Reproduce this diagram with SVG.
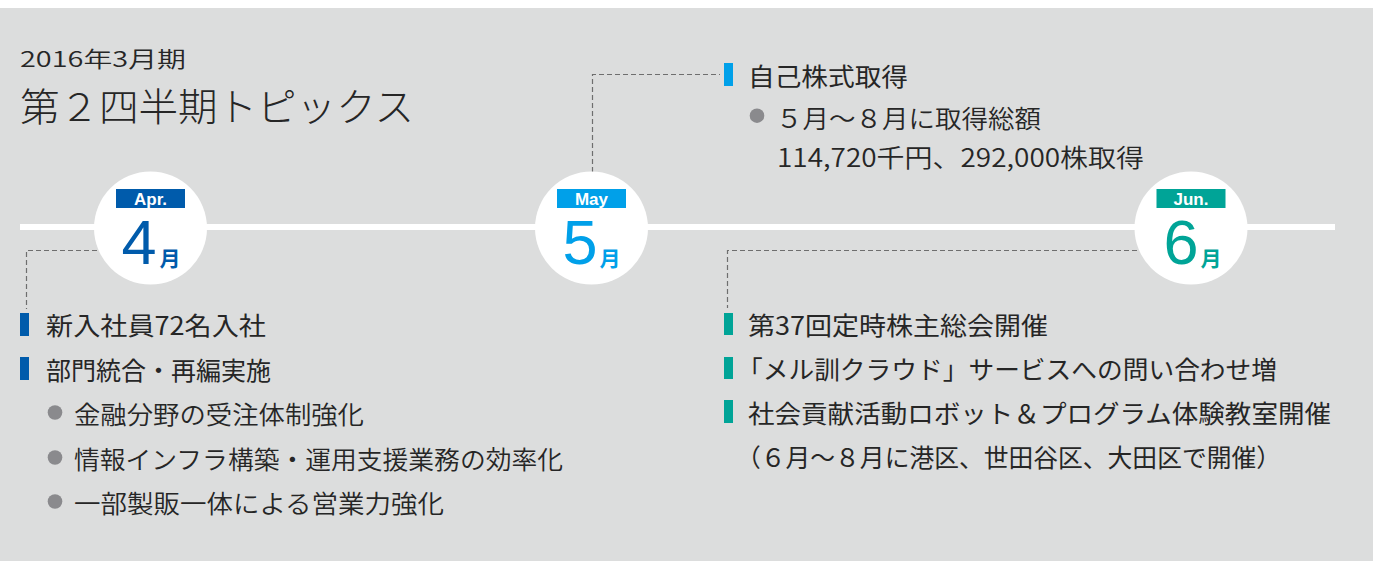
<svg xmlns="http://www.w3.org/2000/svg" width="1389" height="565" viewBox="0 0 1389 565">
<style>
.jp{font-family:"Noto Sans CJK JP","Noto Sans CJK SC",sans-serif;fill:#262626;font-size:25px;font-weight:350}
.hd{font-weight:400}
.big{font-family:"Liberation Sans",Arial,sans-serif;font-size:63px}
.mon{font-family:"Noto Sans CJK JP",sans-serif;font-size:21px;font-weight:bold}
.lab{font-family:"Liberation Sans",Arial,sans-serif;font-size:17px;font-weight:bold;fill:#fff}
.dash{fill:none;stroke:#6e6e6e;stroke-width:1.2;stroke-dasharray:5 3}
.dot{fill:#8a8a8d}
</style>
<rect x="0" y="0" width="1389" height="565" fill="#ffffff"/>
<rect x="0" y="8" width="1373" height="553" fill="#dcdddd"/>
<g id="title">
<text class="jp" x="20" y="67" textLength="166" lengthAdjust="spacingAndGlyphs" style="font-size:21.5px">2016年3月期</text>
<text class="jp" x="20" y="121" textLength="394" lengthAdjust="spacingAndGlyphs" style="font-size:39px;font-weight:300">第２四半期トピックス</text>
</g>
<g id="connectors">
<rect x="20" y="224" width="1315" height="6" fill="#ffffff"/>
<path class="dash" d="M97 250.5 H26.5 V309"/>
<path class="dash" d="M592.5 172 V74.5 H720"/>
<path class="dash" d="M1137 250.5 H727.5 V308"/>
</g>
<g id="apr">
<circle cx="150.5" cy="228" r="56.5" fill="#ffffff"/>
<rect x="116" y="189" width="69" height="19" fill="#005bab"/>
<text class="lab" x="150.5" y="204.5" text-anchor="middle">Apr.</text>
<text class="big" x="121.5" y="264" fill="#005bab">4</text>
<text class="mon" x="159.5" y="266" fill="#005bab">月</text>
</g>
<g id="may">
<circle cx="591.5" cy="228" r="56.5" fill="#ffffff"/>
<rect x="557" y="189" width="69" height="19" fill="#00a0e9"/>
<text class="lab" x="591.5" y="204.5" text-anchor="middle">May</text>
<text class="big" x="562.5" y="264" fill="#00a0e9">5</text>
<text class="mon" x="599.5" y="266" fill="#00a0e9">月</text>
</g>
<g id="jun">
<circle cx="1191" cy="228" r="56.5" fill="#ffffff"/>
<rect x="1156.5" y="189" width="69" height="19" fill="#00a497"/>
<text class="lab" x="1191" y="204.5" text-anchor="middle">Jun.</text>
<text class="big" x="1163.5" y="264" fill="#00a497">6</text>
<text class="mon" x="1200.5" y="266" fill="#00a497">月</text>
</g>
<g id="apr-topics">
<rect x="20" y="313" width="9" height="23" fill="#005bab"/>
<text class="jp hd" x="46" y="335" textLength="220" lengthAdjust="spacingAndGlyphs">新入社員72名入社</text>
<rect x="20" y="357" width="9" height="23" fill="#005bab"/>
<text class="jp hd" x="46" y="379.5" textLength="225" lengthAdjust="spacingAndGlyphs">部門統合・再編実施</text>
<circle class="dot" cx="55" cy="412.5" r="7.3"/>
<text class="jp" x="74" y="424" textLength="290" lengthAdjust="spacingAndGlyphs">金融分野の受注体制強化</text>
<circle class="dot" cx="55" cy="457.5" r="7.3"/>
<text class="jp" x="74" y="468.5" textLength="489" lengthAdjust="spacingAndGlyphs">情報インフラ構築・運用支援業務の効率化</text>
<circle class="dot" cx="55" cy="501.5" r="7.3"/>
<text class="jp" x="74" y="513" textLength="370" lengthAdjust="spacingAndGlyphs">一部製販一体による営業力強化</text>
</g>
<g id="may-topics">
<rect x="724" y="63" width="9" height="23" fill="#00a0e9"/>
<text class="jp hd" x="748" y="86" textLength="160" lengthAdjust="spacingAndGlyphs">自己株式取得</text>
<circle class="dot" cx="757" cy="115.7" r="7.3"/>
<text class="jp" x="776" y="127.5" textLength="265" lengthAdjust="spacingAndGlyphs">５月～８月に取得総額</text>
<text class="jp" x="777" y="166.5" textLength="367" lengthAdjust="spacingAndGlyphs">114,720千円、292,000株取得</text>
</g>
<g id="jun-topics">
<rect x="724" y="313" width="9" height="22" fill="#00a497"/>
<text class="jp hd" x="748" y="335" textLength="300" lengthAdjust="spacingAndGlyphs">第37回定時株主総会開催</text>
<rect x="724" y="357" width="9" height="22" fill="#00a497"/>
<text class="jp hd" x="737" y="378.5" textLength="540" lengthAdjust="spacingAndGlyphs">「メル訓クラウド」サービスへの問い合わせ増</text>
<rect x="724" y="400" width="9" height="23" fill="#00a497"/>
<text class="jp hd" x="748" y="422.5" textLength="583" lengthAdjust="spacingAndGlyphs">社会貢献活動ロボット＆プログラム体験教室開催</text>
<text class="jp hd" x="736" y="467" textLength="545" lengthAdjust="spacingAndGlyphs">（６月～８月に港区、世田谷区、大田区で開催）</text>
</g>
</svg>
